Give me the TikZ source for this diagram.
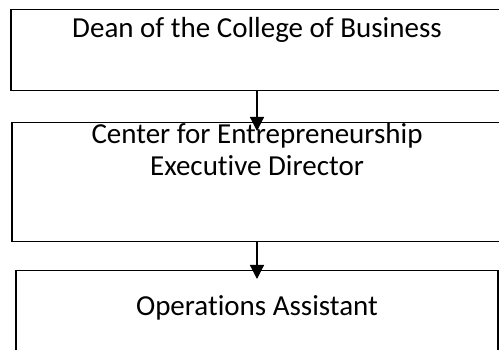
\documentclass[tikz,border=0pt]{standalone}
\usepackage{fontspec}
\setmainfont{Carlito}[Ligatures=NoCommon]
\usetikzlibrary{arrows.meta, positioning}
\tikzset{
  orgbox/.style={draw, line width=1.2pt, inner sep=0pt, align=center,
    font=\fontsize{29}{32}\selectfont},
  orgarrow/.style={-{Triangle[length=14pt,width=14pt]}, line width=1.2pt, shorten >=-9pt}
}
\begin{document}
\begin{tikzpicture}[x=1pt,y=1pt]
  \clip (0,0) rectangle (499,-350);
  % the three levels
  \node[orgbox, anchor=north, minimum width=492pt, text height=28pt, text depth=53pt]
    (dean) at (257,-9) {Dean of the College of Business};
  \node[orgbox, anchor=north, minimum width=490pt, text height=53pt, text depth=66pt]
    (director) at (257,-122) {Center for Entrepreneurship\\Executive Director};
  \node[orgbox, anchor=north, minimum width=482pt, text height=45pt, text depth=65pt]
    (assistant) at (257,-270) {Operations Assistant};

  \draw[orgarrow] (dean.south) -- (director.north);
  \draw[orgarrow] (director.south) -- (assistant.north);
\end{tikzpicture}
\end{document}
